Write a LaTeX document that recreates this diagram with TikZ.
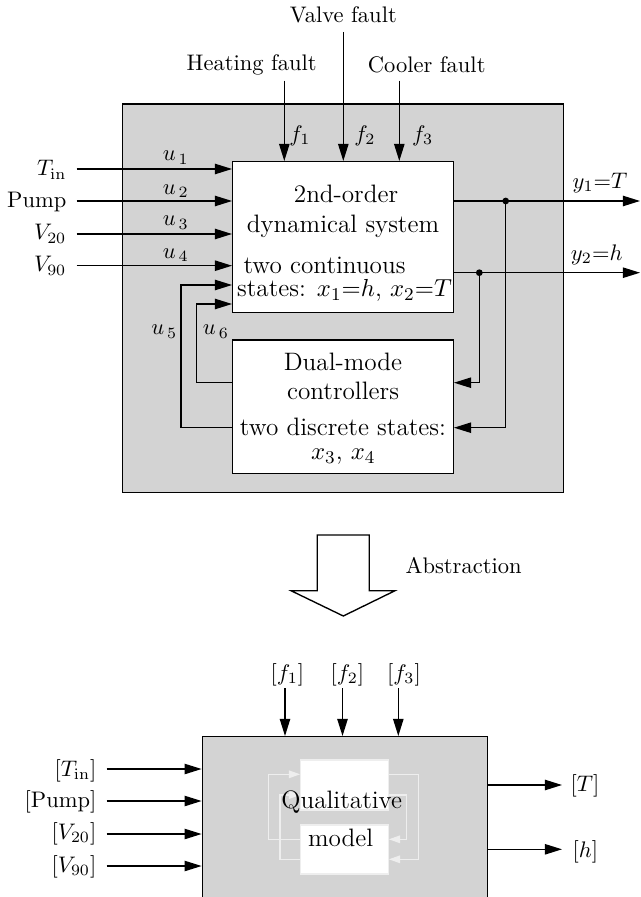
\documentclass[tikz,border=0pt]{standalone}
\usetikzlibrary{arrows.meta}
\definecolor{boxgray}{RGB}{211,211,211}
\definecolor{faint}{RGB}{238,238,238}
\begin{document}
\begin{tikzpicture}[x=0.4444pt,y=-0.4444pt,
  line width=0.6pt,
  arr/.style={-{Triangle[length=7.6pt,width=4.6pt]}},
  farr/.style={draw=faint,line width=0.5pt,-{Triangle[length=5pt,width=3.4pt]}},
  lab/.style={font=\fontsize{10}{12}\selectfont, inner sep=0pt},
  txt/.style={font=\fontsize{11.2}{13.4}\selectfont, inner sep=0pt, anchor=base},
  blk/.style={draw, fill=white, inner sep=0pt},
  dot/.style={circle, fill, inner sep=0pt, minimum size=3pt}
]
\useasboundingbox (0,0) rectangle (640,897);

% ---------------- upper system ----------------
\node[draw, fill=boxgray, inner sep=0pt, minimum width=441*0.4444pt, minimum height=388.7*0.4444pt] (outer) at (343.2,298.35) {};
\node[blk, minimum width=220.6*0.4444pt, minimum height=150.6*0.4444pt] (sys) at (343,237) {};
\node[blk, minimum width=220.6*0.4444pt, minimum height=133.3*0.4444pt] (ctrl) at (343,406.65) {};

\node[txt] (s1) at (346,203) {2nd-order};
\node[txt] (s2) at (343,232.7) {dynamical system};
\node[txt] (s3) at (324.5,274) {two continuous};
\node[txt] (s4) at (344.5,296.5) {states: $x_1{=}h$, $x_2{=}T$};

\node[txt] (c1) at (343,370.7) {Dual-mode};
\node[txt] (c2) at (343,400) {controllers};
\node[txt] (c3) at (343,435.5) {two discrete states:};
\node[txt] (c4) at (343.3,459.5) {$x_3$, $x_4$};

% faults
\node[lab] (heat) at (251.7,65) {Heating fault};
\node[lab] (valve) at (343.3,15) {Valve fault};
\node[lab] (cool) at (426.7,65) {Cooler fault};
\coordinate (f1s) at (284.3,80.7);
\coordinate (f2s) at (343.3,32);
\coordinate (f3s) at (399.3,80.7);
\draw[arr] (f1s) -- (f1s |- sys.north);
\draw[arr] (f2s) -- (f2s |- sys.north);
\draw[arr] (f3s) -- (f3s |- sys.north);
\node[lab] (lf1) at (300,136) {$f_1$};
\node[lab] (lf2) at (365,136) {$f_2$};
\node[lab] (lf3) at (422.7,136) {$f_3$};

% inputs
\coordinate (in1) at (76.7,169);
\coordinate (in2) at (76.7,201);
\coordinate (in3) at (76.7,234);
\coordinate (in4) at (76.7,265.7);
\draw[arr] (in1) -- (in1 -| sys.west);
\draw[arr] (in2) -- (in2 -| sys.west);
\draw[arr] (in3) -- (in3 -| sys.west);
\draw[arr] (in4) -- (in4 -| sys.west);
\node[lab, anchor=base east] (ltin) at (67,176) {$T_{\mathrm{in}}$};
\node[lab, anchor=base east] (lpump) at (67,207.3) {Pump};
\node[lab, anchor=base east] (lv20) at (67,240) {$V_{20}$};
\node[lab, anchor=base east] (lv90) at (67,272) {$V_{90}$};
\node[lab, anchor=base] (lu1) at (175.8,160.7) {$u_{\,1}$};
\node[lab, anchor=base] (lu2) at (175.8,194.5) {$u_{\,2}$};
\node[lab, anchor=base] (lu3) at (175.8,226) {$u_{\,3}$};
\node[lab, anchor=base] (lu4) at (175.8,258.3) {$u_{\,4}$};

% feedback from controllers
\coordinate (u5c) at (181,285);
\coordinate (u6c) at (196.7,304);
\draw[arr] (ctrl.west |- 0,427.7) -| (u5c) -- (u5c -| sys.west);
\draw[arr] (ctrl.west |- 0,382.7) -| (u6c) -- (u6c -| sys.west);
\node[lab] (lu5) at (164.3,331.7) {$u_{\,5}$};
\node[lab] (lu6) at (216,331.7) {$u_{\,6}$};

% outputs
\coordinate (o1) at (640,201);
\coordinate (o2) at (640,272.7);
\draw[arr] (o1 -| sys.east) -- (o1);
\draw[arr] (o2 -| sys.east) -- (o2);
\node[dot] (d1) at (505.7,201) {};
\node[dot] (d2) at (479.3,272.7) {};
\draw[arr] (d1.center) |- (ctrl.east |- 0,427.7);
\draw[arr] (d2.center) |- (ctrl.east |- 0,382.7);
\node[lab] (ly1) at (600,183) {$y_1{=}T$};
\node[lab] (ly2) at (596.7,255) {$y_2{=}h$};

% ---------------- abstraction arrow ----------------
\draw[fill=white] (317.3,535) -- (369.3,535) -- (369.3,590.7) -- (395,590.7) -- (343.3,616) -- (291,590.7) -- (317.3,590.7) -- cycle;
\node[lab, anchor=west] (abs) at (405,566) {Abstraction};

% ---------------- qualitative model ----------------
\node[draw, fill=boxgray, inner sep=0pt, minimum width=285.1*0.4444pt, minimum height=223.3*0.4444pt] (bot) at (344.85,848.35) {};

\node[lab, anchor=base] (bf1l) at (287.3,680.4) {$[f_1]$};
\node[lab, anchor=base] (bf2l) at (347.3,680.4) {$[f_2]$};
\node[lab, anchor=base] (bf3l) at (404,680.4) {$[f_3]$};
\coordinate (bf1) at (285,688);
\coordinate (bf2) at (342.5,688);
\coordinate (bf3) at (398.3,688);
\draw[arr] (bf1) -- (bf1 |- bot.north);
\draw[arr] (bf2) -- (bf2 |- bot.north);
\draw[arr] (bf3) -- (bf3 |- bot.north);

\coordinate (bi1) at (106.7,769);
\coordinate (bi2) at (106.7,801);
\coordinate (bi3) at (106.7,834);
\coordinate (bi4) at (106.7,866);
\draw[arr] (bi1) -- (bi1 -| bot.west);
\draw[arr] (bi2) -- (bi2 -| bot.west);
\draw[arr] (bi3) -- (bi3 -| bot.west);
\draw[arr] (bi4) -- (bi4 -| bot.west);
\node[lab, anchor=base east] (bltin) at (97,776) {$[T_{\mathrm{in}}]$};
\node[lab, anchor=base east] (blpump) at (97,807.7) {[Pump]};
\node[lab, anchor=base east] (blv20) at (97,839.4) {$[V_{20}]$};
\node[lab, anchor=base east] (blv90) at (97,872) {$[V_{90}]$};

\coordinate (bo1) at (562,785);
\coordinate (bo2) at (562,849.3);
\draw[arr] (bo1 -| bot.east) -- (bo1);
\draw[arr] (bo2 -| bot.east) -- (bo2);
\node[lab, anchor=base west] (blT) at (570,791.7) {$[T]$};
\node[lab, anchor=base west] (blh) at (572,857.7) {$[h]$};

% faint inner picture
\node[fill=white, draw=faint, line width=0.5pt, inner sep=0pt, minimum width=87.6*0.4444pt, minimum height=50*0.4444pt] (q1) at (344.5,785) {};
\node[fill=white, draw=faint, line width=0.5pt, inner sep=0pt, minimum width=87.6*0.4444pt, minimum height=49*0.4444pt] (q2) at (344.5,849.5) {};
\coordinate (ql1) at (268.3,774.3);
\coordinate (ql2) at (280,795);
\coordinate (qr1) at (418.3,859.3);
\coordinate (qr2) at (406.7,839.3);
\draw[farr] (q2.west |- 0,839.3) -| (ql1) -- (ql1 -| q1.west);
\draw[farr] (q2.west |- 0,859.3) -| (ql2) -- (ql2 -| q1.west);
\draw[farr] (q1.east |- 0,774.3) -| (qr1) -- (qr1 -| q2.east);
\draw[farr] (q1.east |- 0,795) -| (qr2) -- (qr2 -| q2.east);
\node[txt] (qt1) at (341.7,808) {Qualitative};
\node[txt] (qt2) at (340.7,846) {model};
\end{tikzpicture}
\end{document}
